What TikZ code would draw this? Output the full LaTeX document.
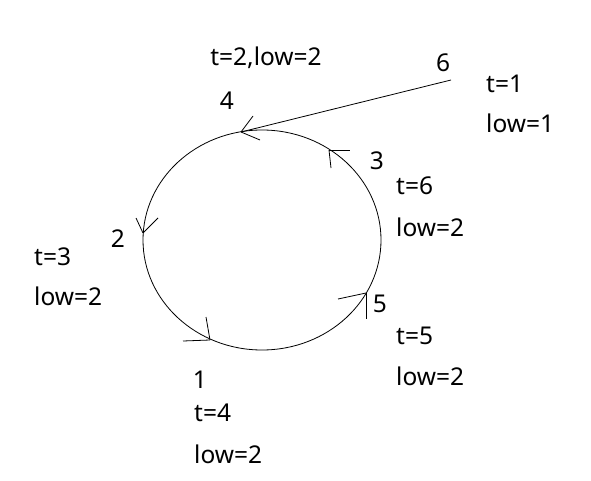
\documentclass[tikz,border=0pt]{standalone}
\usepackage{fontspec}
\setmainfont{Noto Sans}
\begin{document}
\begin{tikzpicture}[x=1pt,y=-1pt,
    lbl/.style={inner sep=0pt,font=\fontsize{24.5}{28}\selectfont},
    info/.style={lbl,anchor=west},
    barb/.style={draw,line width=0.8pt}]
        \useasboundingbox (0,0) rectangle (591,481);
        \draw[line width=0.8pt] (262,240) ellipse [x radius=119,y radius=110];

        % points on the cycle
        \coordinate (p4) at (241,132);
        \coordinate (p3) at (329,150);
        \coordinate (p2) at (143,233);
        \coordinate (p1) at (210,340);
        \coordinate (p5) at (366,293);
        \coordinate (p6) at (451,80);

        \path[barb] (p6) -- (p4);

        \path[barb] (p4) -- (253,116);
        \path[barb] (p4) -- (260,140);
        \path[barb] (p3) -- (350,150);
        \path[barb] (p3) -- (331,168);
        \path[barb] (p2) -- (136,218);
        \path[barb] (p2) -- (158,218);
        \path[barb] (p1) -- (183,341);
        \path[barb] (p1) -- (206,317);
        \path[barb] (p5) -- (338,299);
        \path[barb] (p5) -- (366,319);

        \node[lbl] (n4) at (227,101) {4};
        \node[lbl] (n3) at (377,161) {3};
        \node[lbl] (n2) at (118,239) {2};
        \node[lbl] (n1) at (200,380) {1};
        \node[lbl] (n5) at (380,304) {5};
        \node[lbl] (n6) at (443,63) {6};

        \node[lbl] (i4) at (266,58) {t=2,low=2};
        \node[info] (t6) at (486,84) {t=1};
        \node[info] (l6) at (486,123) {low=1};
        \node[info] (t3) at (396,186) {t=6};
        \node[info] (l3) at (396,227) {low=2};
        \node[info] (t2) at (34,257) {t=3};
        \node[info] (l2) at (34,296) {low=2};
        \node[info] (t5) at (396,336) {t=5};
        \node[info] (l5) at (396,376) {low=2};
        \node[info] (t1) at (194,413) {t=4};
        \node[info] (l1) at (194,454) {low=2};
\end{tikzpicture}
\end{document}
